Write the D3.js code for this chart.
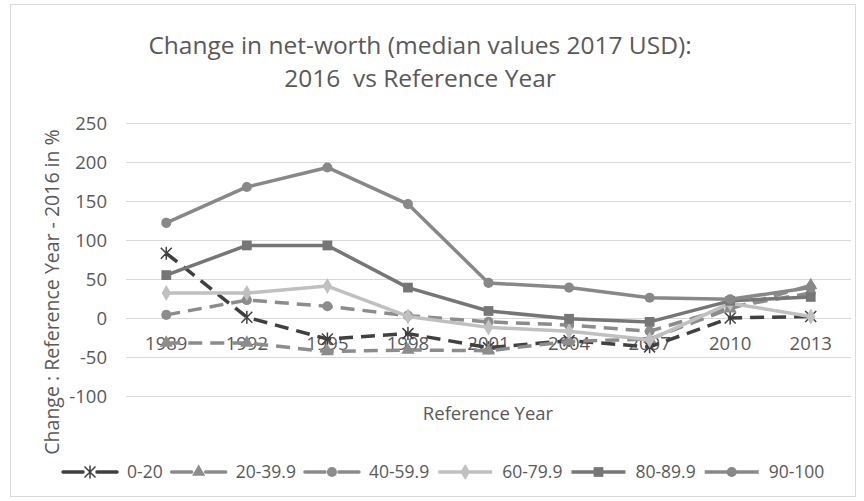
<!DOCTYPE html>
<html>
<head>
<meta charset="utf-8">
<title>net-worth change</title>
<style>
  body { margin: 0; background: #fff; }
  svg { display: block; }
  text { font-family: "Open Sans", sans-serif; fill: #595959; }
  .grid line { stroke: #d9d9d9; stroke-width: 1; }
</style>
</head>
<body>
<svg id="chart" width="864" height="501"></svg>
<script src="https://cdn.jsdelivr.net/npm/d3@7"></script>
<script>
// data
var years = ["1989", "1992", "1995", "1998", "2001", "2004", "2007", "2010", "2013"];
var yTicks = [-100, -50, 0, 50, 100, 150, 200, 250];
var seriesNames = ["0-20", "20-39.9", "40-59.9", "60-79.9", "80-89.9", "90-100"];
var v0_20   = [83, 1, -27, -20, -38, -29, -37, 0, 2];
var v20_39  = [-32, -32, -43, -41, -42, -30, -27, 12, 42];
var v40_59  = [4, 23, 15, 3, -5, -9, -17, 14, 32];
var v60_79  = [32, 32, 41, 2, -12, -17, -28, 19, 2];
var v80_89  = [55, 93, 93, 39, 9, -1, -5, 22, 27];
var v90_100 = [122, 168, 193, 146, 45, 39, 26, 24, 39];

var seriesValues = [v0_20, v20_39, v40_59, v60_79, v80_89, v90_100];
var styles = [
  { color: "#404040", dash: "14,8", marker: "asterisk" },
  { color: "#8c8c8c", dash: "14,8", marker: "triangle" },
  { color: "#8c8c8c", dash: "14,8", marker: "circle" },
  { color: "#c0c0c0", dash: null, marker: "diamond" },
  { color: "#767676", dash: null, marker: "square" },
  { color: "#888888", dash: null, marker: "circle" }
];

var svg = d3.select("#chart");

// outer border
svg.append("rect")
  .attr("x", 10.5).attr("y", 4.5)
  .attr("width", 845).attr("height", 492)
  .attr("fill", "none").attr("stroke", "#d9d9d9");

var x = d3.scaleBand().domain(years).range([126, 851]);
var y = d3.scaleLinear().domain([-100, 250]).range([396, 123]);
var cx = d => x(d) + x.bandwidth() / 2;

// title
var title = svg.append("text").attr("text-anchor", "middle").style("font-size", "24.5px");
title.append("tspan").attr("x", 420).attr("y", 54).text("Change in net-worth (median values 2017 USD):");
title.append("tspan").attr("x", 420).attr("y", 87).text("2016  vs Reference Year").attr("xml:space", "preserve");

// gridlines
svg.append("g").attr("class", "grid")
  .selectAll("line").data(yTicks).join("line")
  .attr("x1", 126).attr("x2", 851)
  .attr("y1", d => Math.round(y(d)) + 0.5)
  .attr("y2", d => Math.round(y(d)) + 0.5);

// y axis labels
svg.append("g").selectAll("text").data(yTicks).join("text")
  .attr("x", 107).attr("y", d => y(d) + 6.5)
  .attr("text-anchor", "end")
  .style("font-size", "18.5px")
  .text(d => d);

svg.append("text")
  .attr("transform", "translate(59,292) rotate(-90)")
  .attr("text-anchor", "middle")
  .style("font-size", "19.5px")
  .text("Change : Reference Year - 2016 in %");

// category labels sit next to the zero line
svg.append("g").selectAll("text").data(years).join("text")
  .attr("x", d => cx(d)).attr("y", y(0) + 32)
  .attr("text-anchor", "middle")
  .style("font-size", "18.5px")
  .text(d => d);

svg.append("text")
  .attr("x", 488).attr("y", 420)
  .attr("text-anchor", "middle")
  .style("font-size", "18.5px")
  .text("Reference Year");

function drawMarker(g, type, color, px, py) {
  if (type === "asterisk") {
    var s = 5.5;
    g.append("path")
      .attr("d", "M" + (px - s) + "," + (py - s) + "L" + (px + s) + "," + (py + s) +
                 "M" + (px - s) + "," + (py + s) + "L" + (px + s) + "," + (py - s) +
                 "M" + px + "," + (py - s - 1) + "L" + px + "," + (py + s + 1))
      .attr("stroke", color).attr("stroke-width", 1.5).attr("fill", "none");
    return;
  }
  var sym = {
    circle: d3.symbolCircle, square: d3.symbolSquare,
    diamond: d3.symbolDiamond, triangle: d3.symbolTriangle
  }[type];
  var size = { circle: 80, square: 95, diamond: 75, triangle: 75 }[type];
  g.append("path")
    .attr("d", d3.symbol().type(sym).size(size)())
    .attr("transform", "translate(" + px + "," + py + ")")
    .attr("fill", color);
}

var line = d3.line().x(d => cx(d.year)).y(d => y(d.v));

seriesValues.forEach(function (vals, i) {
  var st = styles[i];
  var pts = years.map((yr, j) => ({ year: yr, v: vals[j] }));
  var g = svg.append("g");
  g.append("path")
    .datum(pts)
    .attr("d", line)
    .attr("fill", "none")
    .attr("stroke", st.color)
    .attr("stroke-width", 3.5)
    .attr("stroke-linejoin", "round")
    .attr("stroke-dasharray", st.dash);
  pts.forEach(p => drawMarker(g, st.marker, st.color, cx(p.year), y(p.v)));
});

// legend
var legend = svg.append("g");
var lx = 63, ly = 472;
seriesNames.forEach(function (name, i) {
  var st = styles[i];
  var g = legend.append("g");
  var segs = st.dash ? [[0, 20], [34, 54]] : [[0, 54]];
  segs.forEach(function (s) {
    g.append("line")
      .attr("x1", lx + s[0]).attr("x2", lx + s[1])
      .attr("y1", ly).attr("y2", ly)
      .attr("stroke", st.color).attr("stroke-width", 3.5)
      .attr("stroke-linecap", st.dash ? "round" : "butt");
  });
  drawMarker(g, st.marker, st.color, lx + 27, ly);
  var t = g.append("text")
    .attr("x", lx + 64).attr("y", ly + 6)
    .style("font-size", "17.5px")
    .text(name);
  lx += 64 + t.node().getComputedTextLength() + 9;
});
</script>
</body>
</html>
